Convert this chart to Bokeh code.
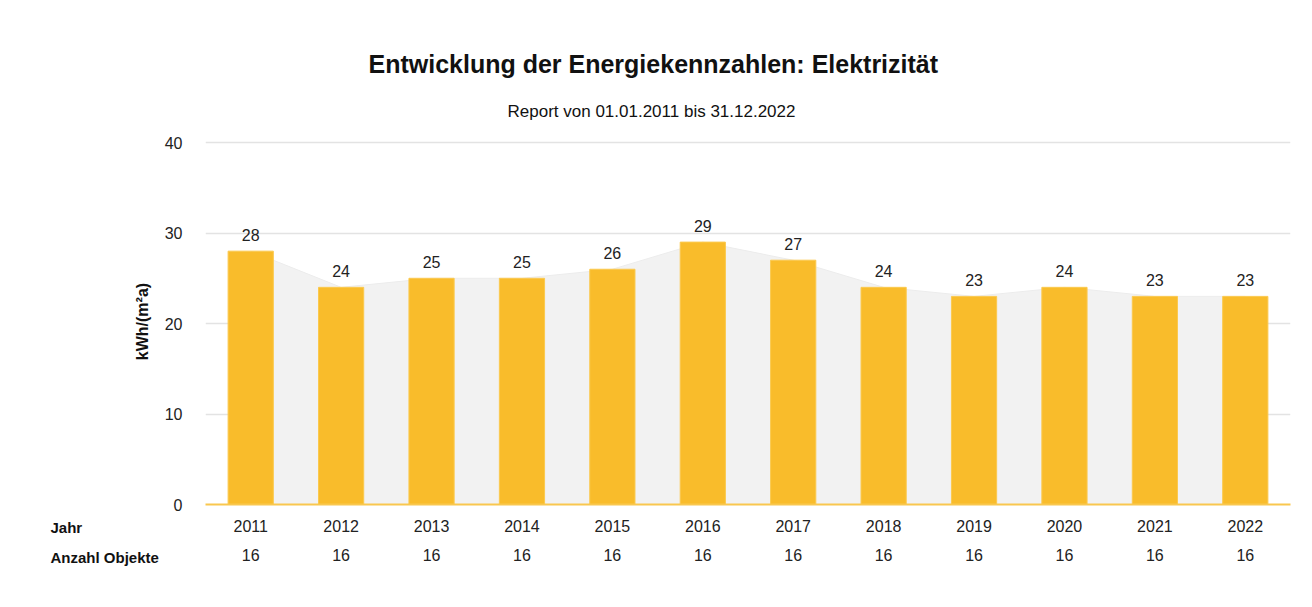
from bokeh.plotting import figure
from bokeh.models import Range1d, FactorRange, CategoricalAxis, Title, ColumnDataSource, LabelSet, SingleIntervalTicker, CustomJSTickFormatter
from bokeh.core.properties import value
from bokeh.embed import file_html
from bokeh.resources import INLINE

years = ["2011", "2012", "2013", "2014", "2015", "2016", "2017", "2018", "2019", "2020", "2021", "2022"]
values = [28, 24, 25, 25, 26, 29, 27, 24, 23, 24, 23, 23]
counts = [16, 16, 16, 16, 16, 16, 16, 16, 16, 16, 16, 16]
title_text = "Entwicklung der Energiekennzahlen: Elektrizität"
subtitle_text = "Report von 01.01.2011 bis 31.12.2022"
y_label = "kWh/(m²a)"

FONT = "Liberation Sans"

W, H = 1306, 599
p = figure(width=W, height=H, x_range=FactorRange(*years), y_range=Range1d(0, 40.45),
           output_backend="svg", toolbar_location=None,
           min_border_left=205, min_border_right=16, min_border_top=138, min_border_bottom=95,
           x_axis_location=None)
p.outline_line_color = None
p.border_fill_color = "white"
p.background_fill_color = "white"

src = ColumnDataSource(dict(x=years, y=values, lab=[str(v) for v in values]))

p.varea(x="x", y1=0, y2="y", source=src, fill_color="#f2f2f2", fill_alpha=1.0)
p.line(x="x", y="y", source=src, line_color="#ececec", line_width=1)
p.vbar(x="x", top="y", width=0.5, source=src, fill_color="#f9bc2b", line_color="#fbc94e", line_width=1)

labels = LabelSet(x="x", y="y", text="lab", source=src, text_align="center", text_baseline="bottom",
                  y_offset=10, text_font=value(FONT), text_font_size=value("16px"), text_color="#222222")
p.add_layout(labels)

p.xgrid.grid_line_color = None
p.ygrid.grid_line_color = "#e3e3e3"
p.ygrid.grid_line_width = 1.5
p.yaxis.ticker = SingleIntervalTicker(interval=10)
p.yaxis.axis_line_color = None
p.yaxis.major_tick_line_color = None
p.yaxis.major_tick_out = 0
p.yaxis.major_tick_in = 0
p.yaxis.minor_tick_line_color = None
p.yaxis.major_label_standoff = 19
p.yaxis.major_label_text_font = FONT
p.yaxis.major_label_text_font_size = "16px"
p.yaxis.major_label_text_color = "#222222"
p.yaxis.axis_label = y_label
p.yaxis.axis_label_text_font = FONT
p.yaxis.axis_label_text_font_style = "bold"
p.yaxis.axis_label_text_font_size = "16px"
p.yaxis.axis_label_text_color = "#111111"
p.yaxis.axis_label_standoff = 11

xa = CategoricalAxis()
xa.axis_line_color = "#f9c74f"
xa.axis_line_width = 2
xa.major_tick_line_color = None
xa.major_tick_out = 0
xa.major_tick_in = 0
xa.minor_tick_line_color = None
xa.major_label_standoff = 15
xa.major_label_text_font = FONT
xa.major_label_text_font_size = "16px"
xa.major_label_text_color = "#222222"
p.add_layout(xa, "below")

count_map = {y: str(c) for y, c in zip(years, counts)}
ca = CategoricalAxis(formatter=CustomJSTickFormatter(args=dict(m=count_map), code="return m[tick] || '';"))
ca.axis_line_color = None
ca.major_tick_line_color = None
ca.major_tick_out = 0
ca.major_tick_in = 0
ca.minor_tick_line_color = None
ca.major_label_standoff = 14
ca.major_label_text_font = FONT
ca.major_label_text_font_size = "16px"
ca.major_label_text_color = "#222222"
p.add_layout(ca, "below")

p.add_layout(Title(text=subtitle_text, align="left", offset=302, standoff=36,
                   text_font=FONT, text_font_style="normal", text_font_size="17px", text_color="#111111"), "above")
p.add_layout(Title(text=title_text, align="left", offset=163, standoff=8,
                   text_font=FONT, text_font_style="bold", text_font_size="25px", text_color="#111111"), "above")
p.add_layout(Title(text="Jahr", align="left", vertical_align="top", offset=-155, standoff=-90,
                   text_font=FONT, text_font_style="bold", text_font_size="15px", text_color="#111111"), "below")
p.add_layout(Title(text="Anzahl Objekte", align="left", vertical_align="top", offset=-155, standoff=-30,
                   text_font=FONT, text_font_style="bold", text_font_size="15px", text_color="#111111"), "below")

open("out.html", "w").write(file_html(p, INLINE))
